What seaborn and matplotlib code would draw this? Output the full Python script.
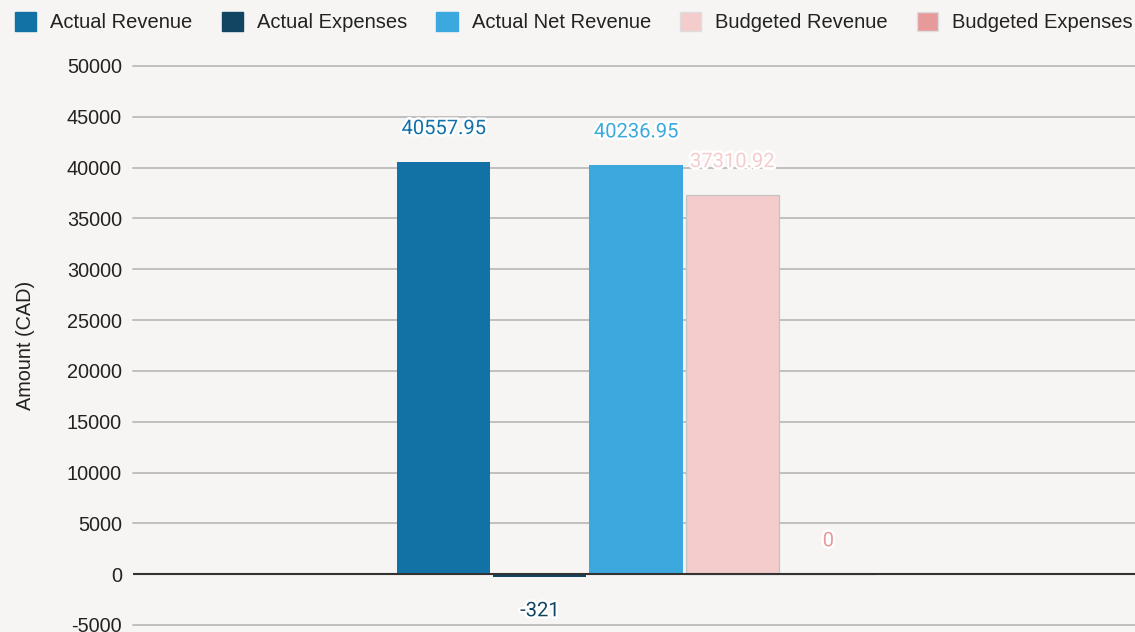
import matplotlib
matplotlib.use("Agg")
import matplotlib.pyplot as plt
import matplotlib.patheffects as pe
from matplotlib.patches import Patch
import pandas as pd
import seaborn as sns

# Data
series = ["Actual Revenue", "Actual Expenses", "Actual Net Revenue",
          "Budgeted Revenue", "Budgeted Expenses"]
values = [40557.95, -321, 40236.95, 37310.92, 0]
value_labels = ["40557.95", "-321", "40236.95", "37310.92", "0"]
colors = ["#1272a6", "#114562", "#3ba9dd", "#f4cccc", "#e69a9a"]
y_ticks = [-5000, 0, 5000, 10000, 15000, 20000, 25000, 30000,
           35000, 40000, 45000, 50000]

df = pd.DataFrame({"period": [""] * len(series), "series": series, "amount": values})

bg = "#f6f5f3"
sns.set_theme(style="white")
plt.rcParams["font.family"] = ["Liberation Sans", "DejaVu Sans"]

fig = plt.figure(figsize=(11.35, 6.32), dpi=100, facecolor=bg)
ax = fig.add_axes([0.1172, 0.0111, 0.8828, 0.8845], facecolor=bg)

sns.barplot(data=df, x="period", y="amount", hue="series", hue_order=series,
            palette=colors, width=0.48, gap=0.03, dodge=True, legend=False,
            saturation=1, ax=ax)

# light outline on the pale bars
for cont, name in zip(ax.containers, series):
    for bar in cont:
        if name.startswith("Budgeted"):
            bar.set_edgecolor("#c4c4c4")
            bar.set_linewidth(0.9)
        else:
            bar.set_linewidth(0)

ax.set_ylim(-5000, 50000)
ax.set_xlim(-0.502, 0.498)
ax.set_yticks(y_ticks)
ax.set_yticklabels([str(t) for t in y_ticks], fontsize=14.3, color="#222222")
ax.set_xticks([])
ax.set_xlabel("")
ax.set_ylabel("Amount (CAD)", fontsize=14.3, color="#222222", labelpad=23)
ax.tick_params(axis="y", length=0, pad=8)
for s in ax.spines.values():
    s.set_visible(False)

ax.set_axisbelow(True)
for t in y_ticks:
    if t == 0:
        continue
    ax.axhline(t, color="#bfbfbf", lw=1.4, zorder=0, clip_on=False)
ax.axhline(0, color="#333333", lw=1.5, zorder=3)

# value labels with white halo
for cont, name, col, txt in zip(ax.containers, series, colors, value_labels):
    for bar in cont:
        xc = bar.get_x() + bar.get_width() / 2
        v = bar.get_height() if bar.get_y() >= 0 else bar.get_y()
        off = 24 if v >= 0 else -24
        ax.annotate(txt, xy=(xc, v), xytext=(0, off), textcoords="offset points",
                    ha="center", va="center", fontsize=14.5, color=col,
                    family=["Roboto", "DejaVu Sans"], zorder=5,
                    path_effects=[pe.withStroke(linewidth=3.5, foreground="white")])

handles = [Patch(facecolor=c, edgecolor=c if i < 3 else "#dddddd", label=n)
           for i, (n, c) in enumerate(zip(series, colors))]
fig.legend(handles=handles, loc="center left", bbox_to_anchor=(0.0132, 0.965),
           ncol=5, frameon=False, fontsize=14.5, handlelength=1.05,
           handleheight=1.1, handletextpad=0.7, columnspacing=1.45,
           borderpad=0, borderaxespad=0, labelcolor="#222222")

fig.savefig("out.png", dpi=100, facecolor=bg)
